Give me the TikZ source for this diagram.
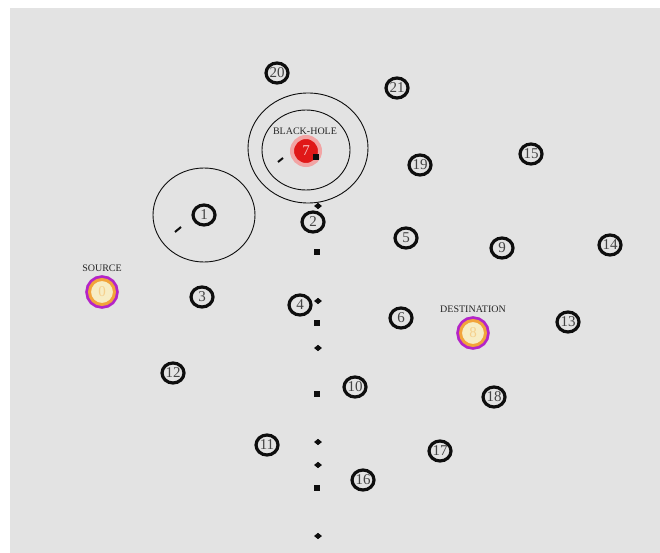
\documentclass[tikz,border=0pt]{standalone}
\usepackage{fontspec}
\setmainfont{Liberation Serif}
\usetikzlibrary{shapes.geometric}
\definecolor{SimPaper}{HTML}{E3E3E3}
\definecolor{SimInk}{HTML}{0E0E0E}
\definecolor{SimLabel}{HTML}{444444}
\definecolor{SimTag}{HTML}{262626}
\definecolor{SimHole}{HTML}{E01818}
\definecolor{SimGlow}{HTML}{F2A4A4}
\definecolor{SimRing}{HTML}{F2A43A}
\definecolor{SimEdge}{HTML}{B424C8}
\definecolor{SimCore}{HTML}{F7EDC4}
\tikzset{
  every node/.style={font=\fontsize{15}{15}\selectfont, text=SimLabel},
  mote/.style={ellipse, draw=SimInk, line width=3.2pt, minimum width=22pt, minimum height=20pt, inner sep=0pt},
  endpoint/.style={circle, draw=SimRing, line width=3pt, fill=SimCore, minimum size=25pt, inner sep=0pt,
    text=SimRing!40!SimCore, preaction={draw=SimEdge, line width=8.5pt}},
  hole/.style={circle, fill=SimHole, draw=SimGlow, line width=4pt, minimum size=28pt, inner sep=0pt, text=SimHole!25!white},
  tag/.style={font=\fontsize{10}{10}\selectfont, text=SimTag},
  reach/.style={draw=SimInk, line width=0.9pt},
  pkt/.style={rectangle, fill=SimInk, minimum size=5.5pt, inner sep=0pt},
  pktd/.style={diamond, fill=SimInk, minimum width=8pt, minimum height=6.5pt, inner sep=0pt},
  trail/.style={draw=SimInk, line width=2pt},
}
\begin{document}
\begin{tikzpicture}[x=1pt,y=-1pt]
  % Field
  \useasboundingbox (0,0) rectangle (660,553);
  \fill[SimPaper] (10,8) rectangle (660,553);
  % Radio ranges
  \draw[reach] (204,215) ellipse [x radius=51, y radius=47];
  \draw[reach] (306,150) ellipse [x radius=44, y radius=40];
  \draw[reach] (308,148) ellipse [x radius=60, y radius=55];
  % Ordinary nodes
  \foreach \n/\x/\y in {1/204/215, 2/313/222, 3/202/297, 4/300/305, 5/406/238, 6/401/318,
      9/502/248, 10/355/387, 11/267/445, 12/173/373, 13/568/322, 14/610/245, 15/531/154,
      16/363/480, 17/440/451, 18/494/397, 19/420/165, 20/277/73, 21/397/88}
    \node[mote] (n\n) at (\x,\y) {\n};
  % Source and destination
  \node[endpoint] (n0) at (102,292) {0};
  \node[tag, above=3pt] (src) at (n0.north) {SOURCE};
  \node[endpoint] (n8) at (473,333) {8};
  \node[tag, above=3pt] (dst) at (n8.north) {DESTINATION};
  % Black hole
  \node[hole] (n7) at (306,151) {7};
  \node[tag] (bh) at (305,131) {BLACK-HOLE};
  \node[pkt] (bhp) at (316,157) {};
  % Short trails
  \draw[trail] (175,232) -- (181,227);
  \draw[trail] (278,162) -- (283,158);
  % Packets on the way down
  \foreach \k/\y in {1/206, 2/301, 3/348, 4/442, 5/465, 6/536}
    \node[pktd] (pd\k) at (318,\y) {};
  \foreach \k/\y in {1/252, 2/323, 3/394, 4/488}
    \node[pkt] (ps\k) at (317,\y) {};
\end{tikzpicture}
\end{document}
